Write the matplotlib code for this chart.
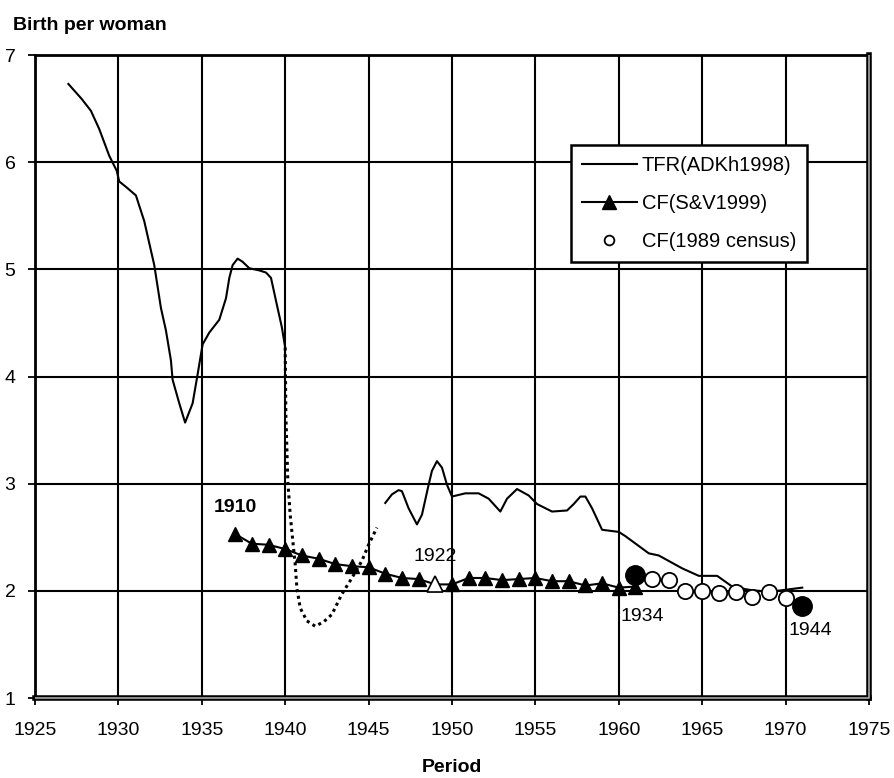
import matplotlib
matplotlib.use("Agg")
import matplotlib.pyplot as plt
from matplotlib.lines import Line2D

plt.rcParams['font.family'] = ['Liberation Sans', 'DejaVu Sans']

# TFR (ADKh1998), pre-war part (solid)
tfr_a_year = [1927.0, 1927.8, 1928.35, 1928.85, 1929.45, 1929.9, 1930.05, 1930.45, 1931.05,
              1931.55, 1932.15, 1932.55, 1932.85, 1933.15, 1933.25, 1933.65, 1934.0, 1934.45,
              1934.75, 1935.05, 1935.45, 1936.05, 1936.45, 1936.65, 1936.85, 1937.15, 1937.45,
              1937.85, 1938.45, 1938.85, 1939.15, 1939.5, 1939.8, 1940.0]
tfr_a_val = [6.73, 6.59, 6.48, 6.31, 6.06, 5.92, 5.82, 5.77, 5.69,
             5.45, 5.04, 4.64, 4.43, 4.15, 3.97, 3.75, 3.57, 3.75,
             4.02, 4.30, 4.41, 4.53, 4.73, 4.92, 5.04, 5.10, 5.07,
             5.01, 4.99, 4.97, 4.92, 4.67, 4.46, 4.27]

# TFR, war years (dotted)
tfr_b_year = [1940.0, 1940.04, 1940.16, 1940.3, 1940.5, 1940.6, 1940.7, 1940.9, 1941.3,
              1941.8, 1942.3, 1942.8, 1943.4, 1944.0, 1944.6, 1945.0, 1945.5]
tfr_b_val = [4.27, 3.64, 3.02, 2.71, 2.40, 2.25, 2.03, 1.84, 1.72,
             1.67, 1.71, 1.78, 1.97, 2.12, 2.28, 2.43, 2.59]

# TFR, post-war part (solid)
tfr_c_year = [1946.0, 1946.4, 1946.8, 1947.0, 1947.4, 1947.9, 1948.2, 1948.6, 1948.8,
              1949.1, 1949.4, 1949.7, 1950.0, 1950.8, 1951.6, 1952.2, 1952.9, 1953.3,
              1953.9, 1954.6, 1955.1, 1956.0, 1956.9, 1957.3, 1957.7, 1958.0, 1958.4,
              1959.0, 1960.0, 1960.4, 1961.8, 1962.4, 1963.8, 1964.8, 1965.9, 1966.8,
              1967.8, 1969.0, 1970.0, 1971.0]
tfr_c_val = [2.82, 2.90, 2.94, 2.93, 2.77, 2.62, 2.71, 2.99, 3.12,
             3.21, 3.15, 2.99, 2.88, 2.91, 2.91, 2.86, 2.74, 2.86,
             2.95, 2.89, 2.81, 2.74, 2.75, 2.81, 2.88, 2.88, 2.77,
             2.57, 2.55, 2.51, 2.35, 2.33, 2.21, 2.14, 2.14, 2.04,
             2.01, 1.99, 2.01, 2.03]

# Completed fertility (S&V1999), cohorts 1910-1934 plotted at cohort + 27
cf_sv_year = list(range(1937, 1962))
cf_sv_val = [2.53, 2.44, 2.43, 2.39, 2.33, 2.30, 2.25, 2.23, 2.22, 2.16, 2.12, 2.11, 2.06,
             2.06, 2.12, 2.12, 2.10, 2.11, 2.12, 2.09, 2.09, 2.05, 2.07, 2.03, 2.04]
cf_sv_open_year = 1949

# Completed fertility (1989 census), cohorts 1934-1944
cf_cen_year = list(range(1961, 1972))
cf_cen_val = [2.15, 2.11, 2.10, 2.00, 2.00, 1.98, 1.99, 1.94, 1.99, 1.93, 1.86]

fig = plt.figure(figsize=(8.95, 7.78), dpi=100)
ax = fig.add_axes([0.0391, 0.1028, 0.9318, 0.8265])

ax.set_xlim(1925, 1975)
ax.set_ylim(1, 7)
ax.set_xticks(range(1925, 1976, 5))
ax.set_yticks(range(1, 8))
ax.grid(True, color='black', linewidth=1.5, zorder=0)
ax.set_axisbelow(True)

ax.tick_params(axis='both', direction='out', length=5, width=1.3, labelsize=14, colors='black')
ax.tick_params(axis='y', pad=9)
ax.tick_params(axis='x', pad=12)

for side in ('top', 'left'):
    ax.spines[side].set_linewidth(2)
for side in ('bottom', 'right'):
    ax.spines[side].set_linewidth(4)
# light core of the doubled bottom/right frame lines
ax.plot([0, 1, 1], [0, 0, 1], transform=ax.transAxes, color='#a8a8a8',
        linewidth=1.2, clip_on=False, zorder=5, solid_capstyle='butt')

ax.plot(tfr_a_year, tfr_a_val, color='black', linewidth=1.5, zorder=3)
ax.plot(tfr_b_year, tfr_b_val, color='black', linewidth=2.2, linestyle=(0, (1, 1.2)), zorder=3)
ax.plot(tfr_c_year, tfr_c_val, color='black', linewidth=1.5, zorder=3)

ax.plot(cf_sv_year, cf_sv_val, color='black', linewidth=1.5, marker='^',
        markersize=10, markerfacecolor='black', markeredgecolor='black', zorder=4)
i_open = cf_sv_year.index(cf_sv_open_year)
ax.plot([cf_sv_year[i_open]], [cf_sv_val[i_open]], linestyle='none', marker='^',
        markersize=11, markerfacecolor='white', markeredgecolor='black',
        markeredgewidth=1.2, zorder=5)

ax.plot(cf_cen_year[1:-1], cf_cen_val[1:-1], linestyle='none', marker='o',
        markersize=11, markerfacecolor='white', markeredgecolor='black',
        markeredgewidth=1.3, zorder=4)
ax.plot([cf_cen_year[0], cf_cen_year[-1]], [cf_cen_val[0], cf_cen_val[-1]],
        linestyle='none', marker='o', markersize=14, markerfacecolor='black',
        markeredgecolor='black', zorder=5)

ax.text(cf_sv_year[0], 2.78, '1910', fontsize=14, fontweight='bold', ha='center', va='center')
ax.text(cf_sv_open_year, 2.32, '1922', fontsize=14, ha='center', va='center')
ax.text(1961.4, 1.76, '1934', fontsize=14, ha='center', va='center')
ax.text(1971.5, 1.63, '1944', fontsize=14, ha='center', va='center')

handles = [
    Line2D([], [], color='black', linewidth=1.5),
    Line2D([], [], color='black', linewidth=1.5, marker='^', markersize=10,
           markerfacecolor='black'),
    Line2D([], [], linestyle='none', marker='o', markersize=7,
           markerfacecolor='white', markeredgecolor='black', markeredgewidth=1.3),
]
labels = ['TFR(ADKh1998)', 'CF(S&V1999)', 'CF(1989 census)']
leg = ax.legend(handles, labels, loc='upper left', bbox_to_anchor=(0.643, 0.860),
                borderaxespad=0, fontsize=14.5, frameon=True, fancybox=False,
                framealpha=1, edgecolor='black', handlelength=2.7,
                handletextpad=0.25, labelspacing=0.95, borderpad=0.55)
leg.get_frame().set_linewidth(1.8)
leg.set_zorder(6)

fig.text(13 / 895, 1 - 25 / 778, 'Birth per woman', fontsize=14, fontweight='bold',
         ha='left', va='center')
fig.text(452 / 895, 1 - 768 / 778, 'Period', fontsize=14, fontweight='bold',
         ha='center', va='center')

fig.savefig('out.png', dpi=100)
